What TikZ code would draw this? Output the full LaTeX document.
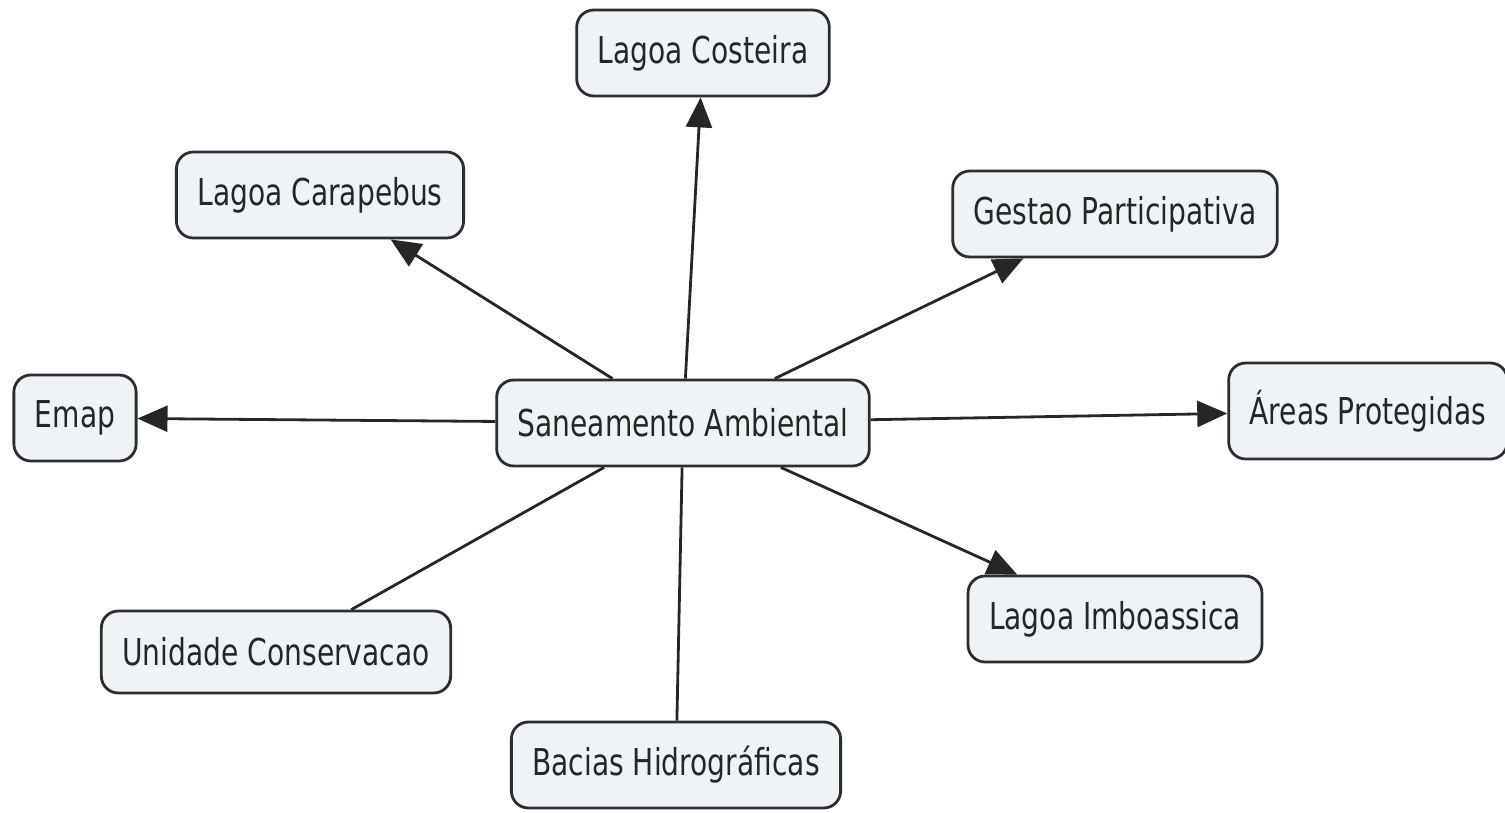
\documentclass[tikz,border=0pt]{standalone}
\usepackage{fontspec}
\setmainfont{DejaVu Sans}[FakeStretch=0.76]
\usetikzlibrary{arrows.meta}
\definecolor{boxfill}{RGB}{238,243,246}
\definecolor{boxline}{RGB}{45,45,45}
\begin{document}
\begin{tikzpicture}[x=1pt,y=-1pt,
  concept/.style={draw=boxline, line width=2.8pt, fill=boxfill, rounded corners=17pt,
    minimum height=86pt, inner xsep=21pt, font=\fontsize{37}{40}\selectfont, text=black!85},
  link/.style={line width=2.8pt, draw=black!85},
  arr/.style={link, -{Triangle[length=30pt,width=26pt]}}]
\useasboundingbox (0,0) rectangle (1505,813);
\node[concept] (c) at (683,423) {Saneamento Ambiental};
\node[concept] (lc) at (703,53) {Lagoa Costeira};
\node[concept] (lcb) at (320,195) {Lagoa Carapebus};
\node[concept] (gp) at (1115,214) {Gestao Participativa};
\node[concept] (em) at (75,418) {Emap};
\node[concept, minimum height=96pt] (ap) at (1368,411) {Áreas Protegidas};
\node[concept, minimum height=82pt] (uc) at (276,652) {Unidade Conservacao};
\node[concept] (li) at (1115,619) {Lagoa Imboassica};
\node[concept] (bh) at (676,765) {Bacias Hidrográficas};
\draw[arr] (c) -- (lc);
\draw[arr] (c) -- (lcb);
\draw[arr] (c) -- (gp);
\draw[arr] (c) -- (em);
\draw[arr] (c) -- (ap);
\draw[arr] (c) -- (li);
\draw[link] (c) -- (uc);
\draw[link] (c) -- (bh);
\end{tikzpicture}
\end{document}
